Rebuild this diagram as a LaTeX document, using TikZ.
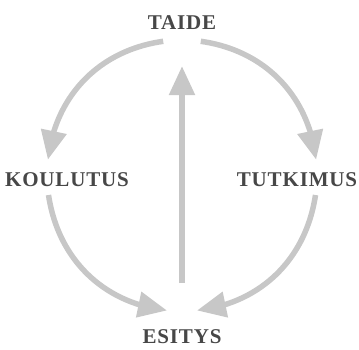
\documentclass[tikz,border=0pt]{standalone}
\usepackage{fontspec}
\setmainfont{Liberation Serif}
\usepackage{tikz}
\usetikzlibrary{arrows.meta,bending,positioning}

\begin{document}
\begin{tikzpicture}[x=1pt,y=1pt,>={Triangle[length=29pt,width=25pt]},
  lbl/.style={font=\fontsize{21}{21}\selectfont\bfseries\addfontfeature{LetterSpace=4},text=black!72,inner sep=6pt},
  arc/.style={->,draw=black!22,line width=5.5pt}]
\useasboundingbox (0,0) rectangle (359,349);
\node[lbl] (taide) at (182,326) {TAIDE};
\node[lbl] (koulutus) at (67,169) {KOULUTUS};
\node[lbl] (tutkimus) at (297,169) {TUTKIMUS};
\node[lbl] (esitys) at (182,12.5) {ESITYS};
% kehä
\draw[arc] ([shift={(-18.8,-18.3)}]taide.center) to[out=188,in=83.5] ([shift={(-19.1,20.3)}]koulutus.center);
\draw[arc] ([shift={(18.8,-18.3)}]taide.center) to[out=-8,in=96.5] ([shift={(19.1,20.3)}]tutkimus.center);
\draw[arc] ([shift={(-18.5,-15)}]koulutus.center) to[out=278.5,in=173.5] ([shift={(-15,26)}]esitys.center);
\draw[arc] ([shift={(18.5,-15)}]tutkimus.center) to[out=261.5,in=6.5] ([shift={(15,26)}]esitys.center);
% keskellä
\draw[arc,shorten <=40pt,shorten >=30pt] (esitys) -- (taide);
\end{tikzpicture}
\end{document}
